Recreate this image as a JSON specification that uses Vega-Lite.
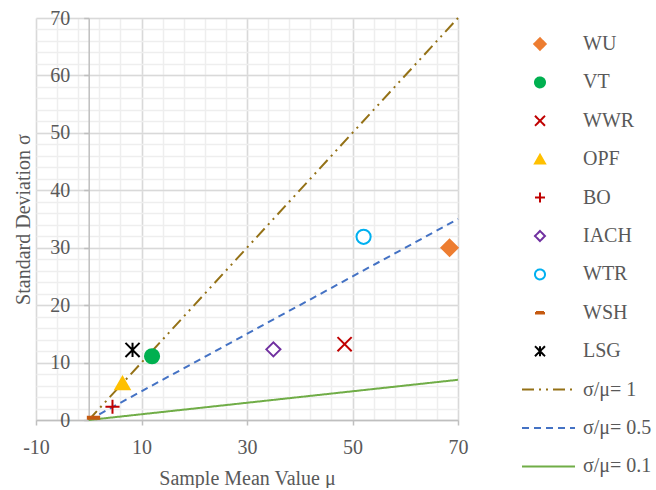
{
  "$schema": "https://vega.github.io/schema/vega-lite/v6.json",
  "width": 422,
  "height": 402,
  "padding": {"left": 13, "top": 8, "right": 0, "bottom": 0},
  "config": {
    "font": "Liberation Serif",
    "view": {"stroke": null},
    "axis": {
      "labelFont": "Liberation Serif",
      "labelFontSize": 20,
      "labelColor": "#595959",
      "titleFont": "Liberation Serif",
      "titleFontSize": 20,
      "titleFontWeight": "normal",
      "titleColor": "#595959",
      "labelFlush": false,
      "labelOverlap": false
    }
  },
  "datasets": {
    "points": [
      {"series": "WU", "mu": 68.4, "sigma": 30.0},
      {"series": "VT", "mu": 12.0, "sigma": 11.1},
      {"series": "WWR", "mu": 48.5, "sigma": 13.2},
      {"series": "OPF", "mu": 6.4, "sigma": 6.4},
      {"series": "BO", "mu": 4.5, "sigma": 2.3},
      {"series": "IACH", "mu": 35.0, "sigma": 12.3},
      {"series": "WTR", "mu": 52.1, "sigma": 31.9},
      {"series": "WSH", "mu": 0.9, "sigma": 0.4},
      {"series": "LSG", "mu": 8.3, "sigma": 12.2}
    ],
    "lines": [
      {"series": "σ/μ= 1", "mu": 0, "sigma": 0},
      {"series": "σ/μ= 1", "mu": 70, "sigma": 70},
      {"series": "σ/μ= 0.5", "mu": 0, "sigma": 0},
      {"series": "σ/μ= 0.5", "mu": 70, "sigma": 35},
      {"series": "σ/μ= 0.1", "mu": 0, "sigma": 0},
      {"series": "σ/μ= 0.1", "mu": 70, "sigma": 7}
    ]
  },
  "layer": [
    {
      "data": {"name": "lines"},
      "mark": {"type": "line", "strokeWidth": 2},
      "encoding": {
        "x": {
          "field": "mu", "type": "quantitative",
          "scale": {"domain": [-10, 70], "nice": false, "zero": false},
          "axis": {"orient": "bottom", "values": [-10, -6, -2, 2, 6, 10, 14, 18, 22, 26, 30, 34, 38, 42, 46, 50, 54, 58, 62, 66, 70],
                   "grid": true, "gridColor": "#EEEEEE", "gridWidth": 1.5, "labels": false, "ticks": false, "domain": false, "title": null}
        },
        "y": {
          "field": "sigma", "type": "quantitative",
          "scale": {"domain": [0, 70], "nice": false, "zero": false},
          "axis": {"orient": "left", "values": [0, 2, 4, 6, 8, 10, 12, 14, 16, 18, 20, 22, 24, 26, 28, 30, 32, 34, 36, 38, 40, 42, 44, 46, 48, 50, 52, 54, 56, 58, 60, 62, 64, 66, 68, 70],
                   "grid": true, "gridColor": "#EEEEEE", "gridWidth": 1.5, "labels": false, "ticks": false, "domain": false, "title": null}
        },
        "stroke": {
          "field": "series", "type": "nominal",
          "scale": {
            "domain": ["WU", "VT", "WWR", "OPF", "BO", "IACH", "WTR", "WSH", "LSG", "σ/μ= 1", "σ/μ= 0.5", "σ/μ= 0.1"],
            "range": ["#ED7D31", "#00B050", "#C00000", "#FFC000", "#C00000", "#7030A0", "#00B0F0", "#C55A11", "#000000", "#947116", "#4472C4", "#70AD47"]
          },
          "legend": {"title": null, "orient": "none", "legendX": 494, "legendY": 16, "symbolSize": 100, "symbolStrokeWidth": 2, "labelOffset": 33, "rowPadding": 18.4, "labelFontSize": 20, "labelColor": "#595959", "labelFont": "Liberation Serif"}
        },
        "strokeDash": {
          "field": "series", "type": "nominal",
          "scale": {
            "domain": ["WU", "VT", "WWR", "OPF", "BO", "IACH", "WTR", "WSH", "LSG", "σ/μ= 1", "σ/μ= 0.5", "σ/μ= 0.1"],
            "range": [[1, 0], [1, 0], [1, 0], [1, 0], [1, 0], [1, 0], [1, 0], [1, 0], [1, 0], [12, 5, 2, 5, 2, 5], [7, 5], [1, 0]]
          },
          "legend": {"title": null, "orient": "none", "legendX": 494, "legendY": 16, "symbolSize": 100, "symbolStrokeWidth": 2, "labelOffset": 33, "rowPadding": 18.4, "labelFontSize": 20, "labelColor": "#595959", "labelFont": "Liberation Serif"}
        }
      }
    },
    {
      "data": {"name": "points"},
      "mark": {"type": "point", "size": 200, "strokeWidth": 2, "opacity": 1},
      "encoding": {
        "x": {
          "field": "mu", "type": "quantitative",
          "scale": {"domain": [-10, 70], "nice": false, "zero": false},
          "axis": {"orient": "bottom", "values": [-10, 10, 30, 50, 70], "labelExpr": "'' + datum.value", "grid": true, "gridColor": "#D9D9D9", "gridWidth": 1.5,
                   "ticks": true, "tickSize": 5, "tickColor": "#BFBFBF", "tickWidth": 1.5, "domain": true, "domainColor": "#BFBFBF", "domainWidth": 1.5,
                   "labelPadding": 12, "title": "Sample Mean Value μ", "titlePadding": 11}
        },
        "y": {
          "field": "sigma", "type": "quantitative",
          "scale": {"domain": [0, 70], "nice": false, "zero": false},
          "axis": {"orient": "left", "offset": -52.7, "values": [0, 10, 20, 30, 40, 50, 60, 70], "grid": true, "gridColor": "#D9D9D9", "gridWidth": 1.5,
                   "ticks": true, "tickSize": 5, "tickColor": "#BFBFBF", "tickWidth": 1.5, "domain": true, "domainColor": "#BFBFBF", "domainWidth": 1.5,
                   "labelPadding": 14, "title": "Standard Deviation σ", "titlePadding": 16}
        },
        "shape": {
          "field": "series", "type": "nominal",
          "scale": {
            "domain": ["WU", "VT", "WWR", "OPF", "BO", "IACH", "WTR", "WSH", "LSG", "σ/μ= 1", "σ/μ= 0.5", "σ/μ= 0.1"],
            "range": ["M0,-1.15L1.15,0L0,1.15L-1.15,0Z", "circle", "M-1,-1L1,1M-1,1L1,-1", "triangle-up", "M-1,0H1M0,-1V1", "diamond", "circle", "M-0.8,-0.15H0.8V0.15H-0.8Z", "M-1,-1L1,1M-1,1L1,-1M0,-1V1", "M-3.6,0H7", "M-3.6,0H7", "M-3.6,0H7"]
          },
          "legend": {"title": null, "orient": "none", "legendX": 494, "legendY": 16, "symbolSize": 100, "symbolStrokeWidth": 2, "labelOffset": 33, "rowPadding": 18.4, "labelFontSize": 20, "labelColor": "#595959", "labelFont": "Liberation Serif"}
        },
        "fill": {
          "field": "series", "type": "nominal",
          "scale": {
            "domain": ["WU", "VT", "WWR", "OPF", "BO", "IACH", "WTR", "WSH", "LSG", "σ/μ= 1", "σ/μ= 0.5", "σ/μ= 0.1"],
            "range": ["#ED7D31", "#00B050", "transparent", "#FFC000", "transparent", "white", "white", "#C55A11", "transparent", "transparent", "transparent", "transparent"]
          },
          "legend": {"title": null, "orient": "none", "legendX": 494, "legendY": 16, "symbolSize": 100, "symbolStrokeWidth": 2, "labelOffset": 33, "rowPadding": 18.4, "labelFontSize": 20, "labelColor": "#595959", "labelFont": "Liberation Serif"}
        },
        "stroke": {
          "field": "series", "type": "nominal",
          "scale": {
            "domain": ["WU", "VT", "WWR", "OPF", "BO", "IACH", "WTR", "WSH", "LSG", "σ/μ= 1", "σ/μ= 0.5", "σ/μ= 0.1"],
            "range": ["#ED7D31", "#00B050", "#C00000", "#FFC000", "#C00000", "#7030A0", "#00B0F0", "#C55A11", "#000000", "#947116", "#4472C4", "#70AD47"]
          },
          "legend": {"title": null, "orient": "none", "legendX": 494, "legendY": 16, "symbolSize": 100, "symbolStrokeWidth": 2, "labelOffset": 33, "rowPadding": 18.4, "labelFontSize": 20, "labelColor": "#595959", "labelFont": "Liberation Serif"}
        }
      }
    }
  ],
  "resolve": {"axis": {"x": "independent", "y": "independent"}}
}
